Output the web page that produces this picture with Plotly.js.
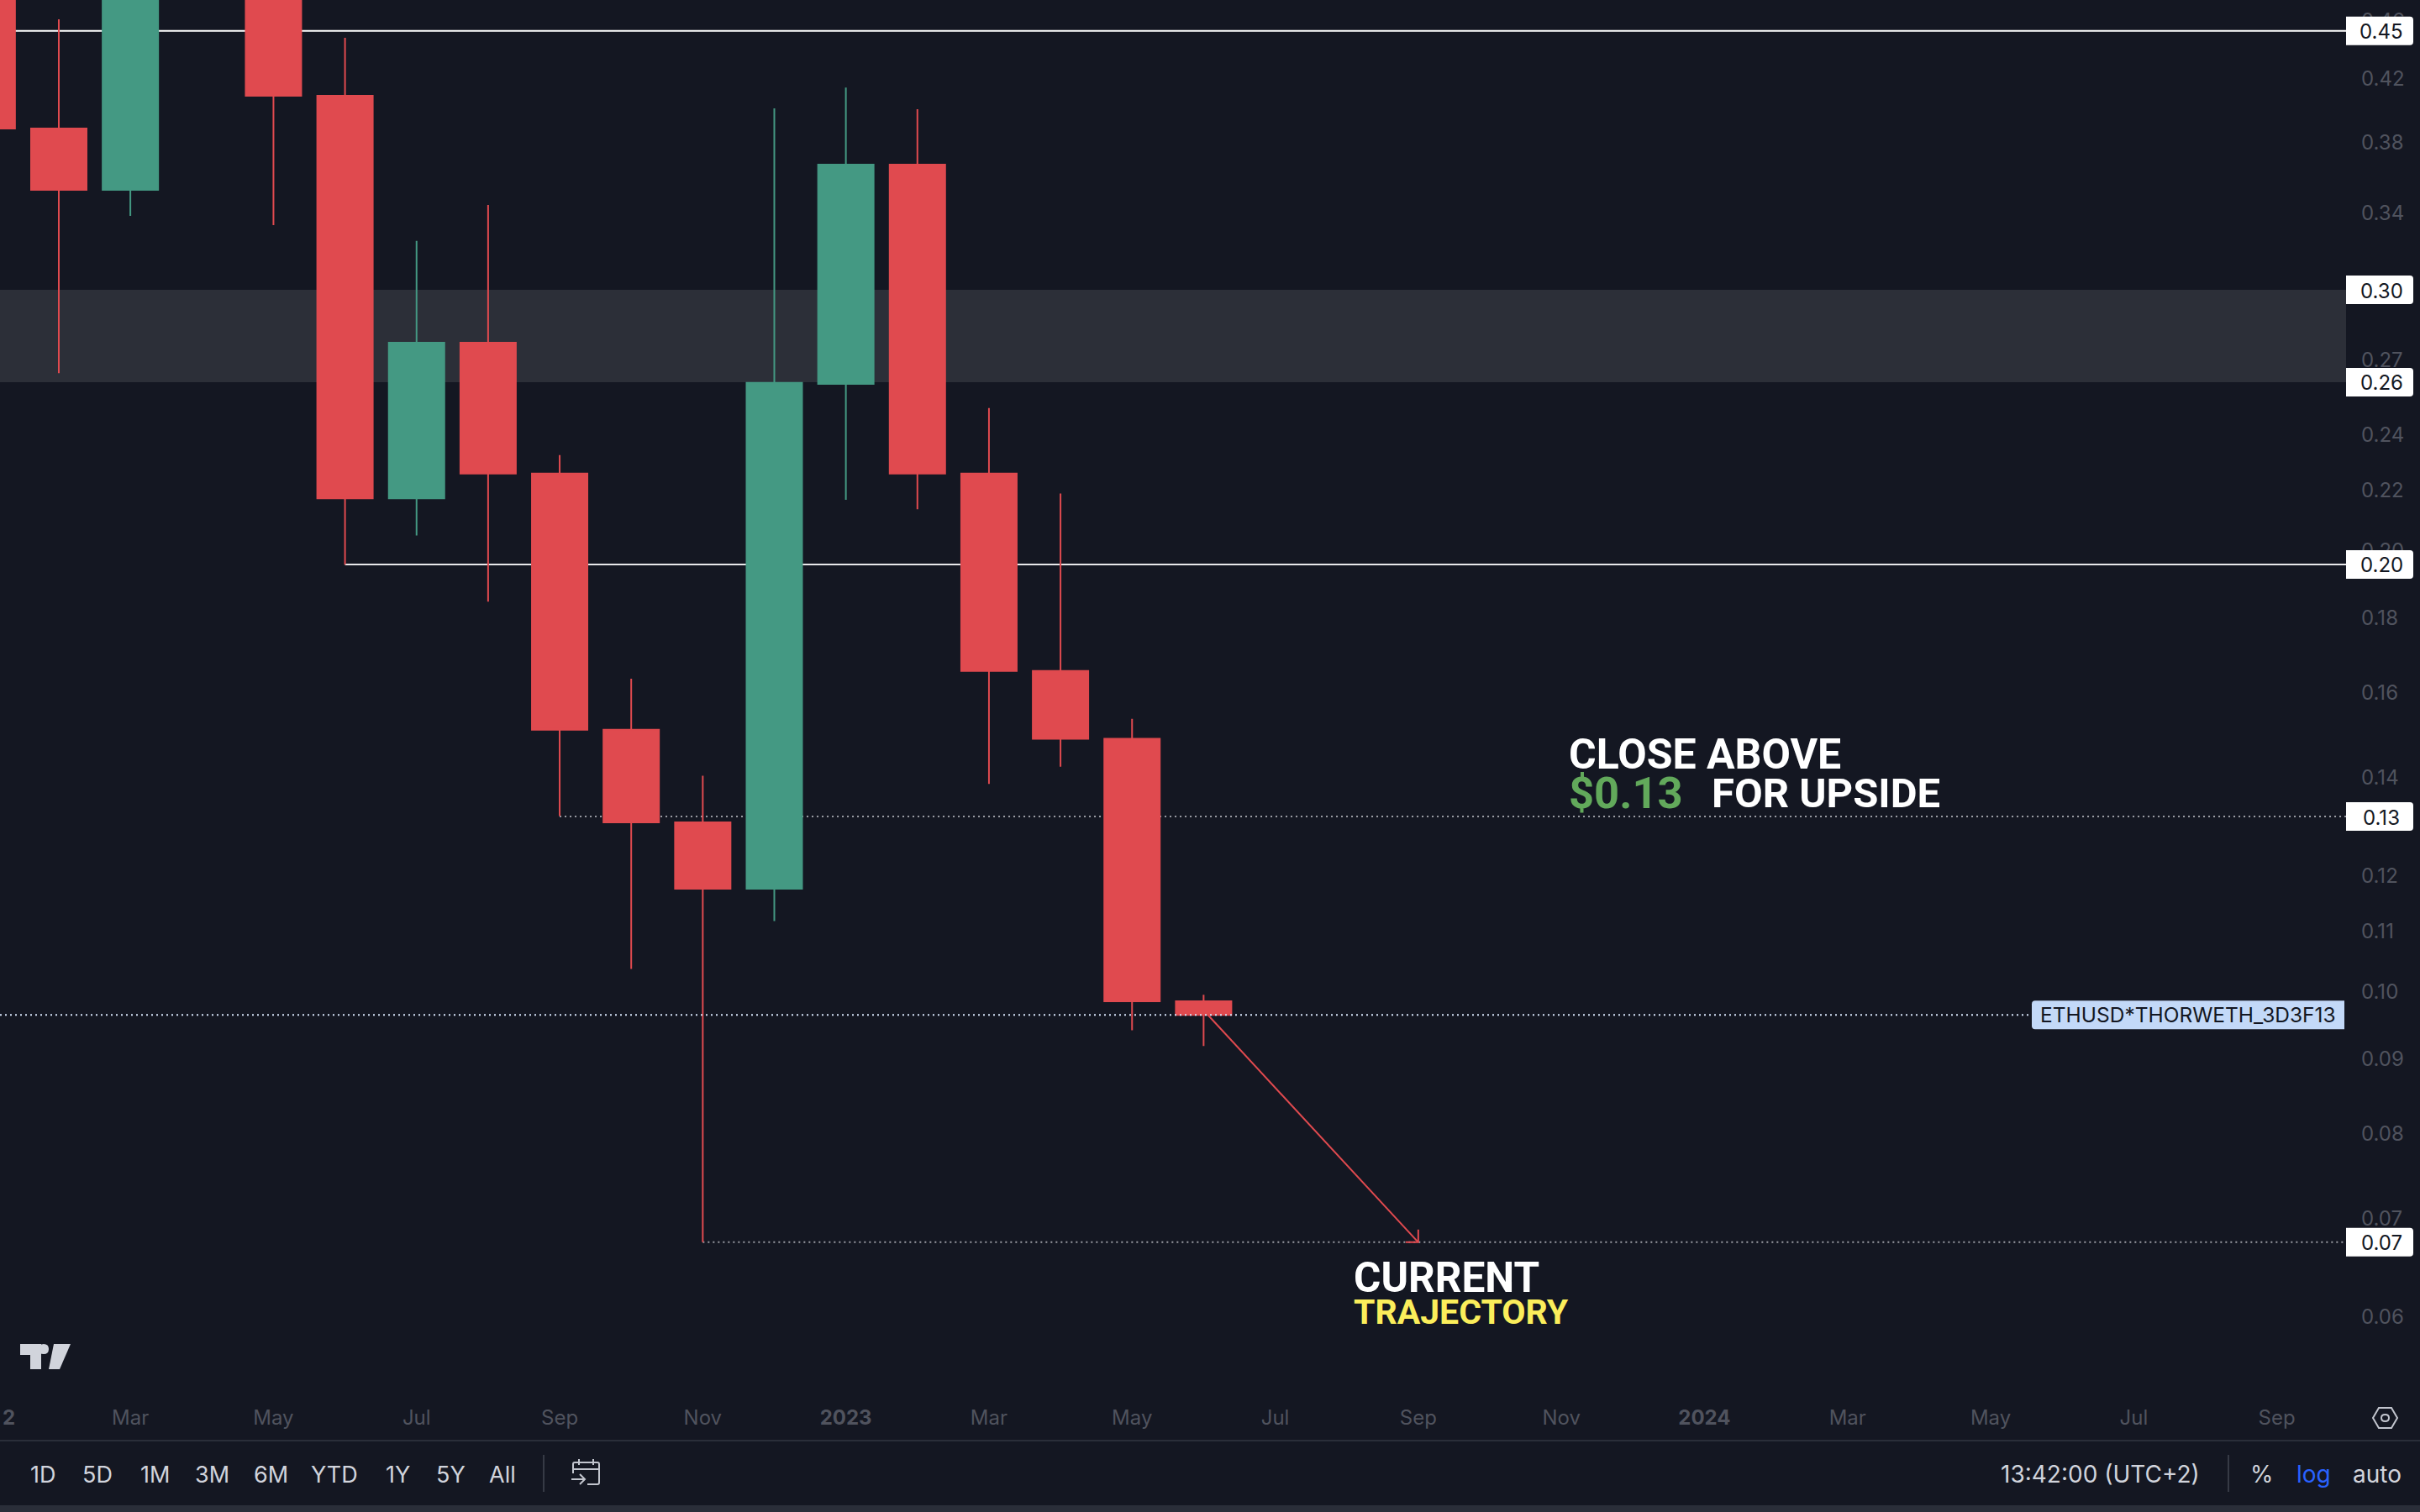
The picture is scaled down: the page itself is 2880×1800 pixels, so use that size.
<!DOCTYPE html>
<html><head><meta charset="utf-8">
<script src="https://cdn.plot.ly/plotly-3.0.1.min.js"></script>
<style>html,body{margin:0;padding:0;background:#141722;overflow:hidden}#c{width:2880px;height:1800px}</style>
</head><body><div id="c"></div>
<script>
var months = ["2022-01","2022-02","2022-03","2022-04","2022-05","2022-06","2022-07","2022-08","2022-09","2022-10","2022-11","2022-12",
  "2023-01","2023-02","2023-03","2023-04","2023-05","2023-06","2023-07","2023-08","2023-09","2023-10","2023-11","2023-12",
  "2024-01","2024-02","2024-03","2024-04","2024-05","2024-06","2024-07","2024-08","2024-09","2024-10","2024-11"];
var candleMonths = ["2022-01","2022-02","2022-03","2022-04","2022-05","2022-06","2022-07","2022-08","2022-09","2022-10","2022-11","2022-12",
  "2023-01","2023-02","2023-03","2023-04","2023-05","2023-06"];
var open  = [0.52,0.3875,0.3519,0.50,0.56,0.4080,0.2167,0.2767,0.2253,0.1506,0.1302,0.1173,0.2594,0.3661,0.2253,0.1652,0.1485,0.0983];
var high  = [0.56,0.4601,0.5000,0.60,0.58,0.4468,0.3247,0.3436,0.2319,0.1632,0.1401,0.3999,0.4133,0.3994,0.2497,0.2183,0.1532,0.0993];
var low   = [0.33,0.2638,0.3378,0.49,0.3329,0.1952,0.2044,0.1842,0.1315,0.1034,0.0673,0.1115,0.2162,0.2130,0.1383,0.1421,0.0939,0.0916];
var close = [0.3875,0.3519,0.50,0.56,0.4080,0.2167,0.2767,0.2253,0.1506,0.1302,0.1173,0.2598,0.3661,0.2253,0.1652,0.1485,0.0983,0.0962];

var yTickVals = [0.46,0.42,0.38,0.34,0.30,0.27,0.24,0.22,0.20,0.18,0.16,0.14,0.12,0.11,0.10,0.09,0.08,0.07,0.06];
var yTickText = ["0.46","0.42","0.38","0.34","0.30","0.27","0.24","0.22","0.20","0.18","0.16","0.14","0.12","0.11","0.10","0.09","0.08","0.07","0.06"];
var xTickVals = ["2022-03","2022-05","2022-07","2022-09","2022-11","2023-01","2023-03","2023-05","2023-07","2023-09","2023-11","2024-01","2024-03","2024-05","2024-07","2024-09"];
var xTickText = ["Mar","May","Jul","Sep","Nov","<b>2023</b>","Mar","May","Jul","Sep","Nov","<b>2024</b>","Mar","May","Jul","Sep"];

var tagPrices = [0.4517,0.3007,0.2601,0.1953,0.1314,0.0673];
var tagText   = ["0.45","0.30","0.26","0.20","0.13","0.07"];
var lastPrice = 0.0962;
var symbolName = "ETHUSD*THORWETH_3D3F13";

var W=2880,H=1800,plotR=2792,plotB=1660;
var BG='#141722',RED='#e04a4f',GREEN='#449983',AXIS='#50535e',TXT='#d1d4dc',SEP='#2a2e39';
function px(x){return x/W;} function py(y){return 1-y/H;}
var FONT='Inter, "Noto Sans", sans-serif';

var shapes=[], ann=[];
// zone and levels
shapes.push({type:'rect',layer:'below',xref:'paper',yref:'y',x0:0,x1:px(plotR),y0:tagPrices[2],y1:tagPrices[1],fillcolor:'#2c2f38',line:{width:0}});
shapes.push({type:'line',layer:'below',xref:'paper',yref:'y',x0:0,x1:px(plotR),y0:tagPrices[0],y1:tagPrices[0],line:{color:'#ffffff',width:2}});
shapes.push({type:'line',layer:'below',xref:'x',yref:'y',x0:'2022-06',x1:'2024-11',y0:tagPrices[3],y1:tagPrices[3],line:{color:'#e8e8ea',width:2}});
shapes.push({type:'line',layer:'below',xref:'x',yref:'y',x0:'2022-09',x1:'2024-11',y0:tagPrices[4],y1:tagPrices[4],line:{color:'#9b9da4',width:2,dash:'2px,4px'}});
shapes.push({type:'line',layer:'below',xref:'x',yref:'y',x0:'2022-11',x1:'2024-11',y0:tagPrices[5],y1:tagPrices[5],line:{color:'#9b9da4',width:2,dash:'2px,4px'}});
// trajectory arrow
shapes.push({type:'line',layer:'below',xref:'x',yref:'y',x0:'2023-06',x1:'2023-09',y0:0.0969,y1:tagPrices[5],line:{color:RED,width:2}});
shapes.push({type:'path',layer:'above',xref:'x',yref:'y',xsizemode:'pixel',ysizemode:'pixel',xanchor:'2023-09',yanchor:tagPrices[5],path:'M-15 0 L0 0 L0 15',line:{color:RED,width:2}});
// last price line
shapes.push({type:'line',layer:'above',xref:'paper',yref:'y',x0:0,x1:px(2418),y0:lastPrice,y1:lastPrice,line:{color:'#d5e3f7',width:2,dash:'2px,4px'}});
// last price tag
shapes.push({type:'path',layer:'above',xref:'paper',yref:'y',xsizemode:'pixel',ysizemode:'pixel',xanchor:px(2418),yanchor:lastPrice,
  path:'M4 17 H372 V-17 H4 Q0 -17 0 -13 V13 Q0 17 4 17 Z',fillcolor:'#c3d9f8',line:{width:0}});
ann.push({xref:'paper',yref:'y',x:px(2604),y:Math.log10(lastPrice),yshift:0,text:symbolName,showarrow:false,xanchor:'center',yanchor:'middle',font:{family:FONT,size:24.5,color:'#131722'}});
// price tags
tagPrices.forEach(function(p,i){
  shapes.push({type:'path',layer:'above',xref:'paper',yref:'y',xsizemode:'pixel',ysizemode:'pixel',xanchor:px(plotR),yanchor:p,
    path:'M0 17 H76 Q80 17 80 13 V-13 Q80 -17 76 -17 H0 Z',fillcolor:'#ffffff',line:{width:0}});
  ann.push({xref:'paper',yref:'y',x:px(2834),y:Math.log10(p),yshift:-1,text:tagText[i],showarrow:false,xanchor:'center',yanchor:'middle',font:{family:FONT,size:24,color:'#131722'}});
});
// callouts
function txt(t,x,y,size,color,anchor,family,weight){ann.push({xref:'paper',yref:'paper',x:px(x),y:py(y),text:t,showarrow:false,xanchor:anchor||'left',yanchor:'middle',borderpad:0,font:{family:family||FONT,size:size,color:color,weight:weight||400}});}
var ROB='Roboto, sans-serif';
txt('CLOSE ABOVE',1866,898,50,'#ffffff','left',ROB,700);
txt('$0.13',1866,944,52.5,'#62a95b','left',ROB,700);
txt('FOR UPSIDE',2036,944,49,'#ffffff','left',ROB,700);
txt('CURRENT',1610,1521,49.5,'#ffffff','left',ROB,700);
txt('TRAJECTORY',1610,1562,41,'#fbee5b','left',ROB,700);
txt('<b>2</b>',2,1687,24,AXIS,'left');
// toolbar
var toolbarLabels=['1D','5D','1M','3M','6M','YTD','1Y','5Y','All'];
var toolbarX=[51,116,184,253,322,398,473,536,598];
toolbarLabels.forEach(function(t,i){txt(t,toolbarX[i],1755,27,TXT,'center');});
txt('13:42:00 (UTC+2)',2499,1755,28,TXT,'center');
txt('%',2692,1755,28,TXT,'center');
txt('log',2753,1755,28,'#2962ff','center');
txt('auto',2829,1755,28,TXT,'center');
function prect(x0,y0,x1,y1,c){shapes.push({type:'rect',layer:'above',xref:'paper',yref:'paper',x0:px(x0),x1:px(x1),y0:py(y0),y1:py(y1),fillcolor:c,line:{width:0}});}
prect(0,1714,W,1716,SEP);
prect(0,1792,W,H,SEP);
prect(646,1732,648,1776,'#363a45');
prect(2651,1732,2653,1776,'#363a45');
// icons, in page pixels
function icon(path,fill,stroke){shapes.push({type:'path',layer:'above',xref:'paper',yref:'paper',xsizemode:'pixel',ysizemode:'pixel',xanchor:0,yanchor:1,path:path,fillcolor:fill||'rgba(0,0,0,0)',line:{color:stroke||'rgba(0,0,0,0)',width:stroke?2:0}});}
function P(a){return a.map(function(s){return typeof s==='string'?s:(s[0]+' '+(-s[1]));}).join(' ');}
// TradingView mark
icon(P(['M',[24,1600],'L',[49,1600],'L',[49,1630],'L',[36,1630],'L',[36,1613],'L',[24,1613],'Z']),'#d1d4dc');
icon(P(['M',[64,1600],'L',[84,1600],'L',[71,1630],'L',[58,1630],'Z']),'#d1d4dc');
icon(P(['M',[52,1600],'Q',[58,1600],[58,1606],'Q',[58,1612],[52,1612],'Q',[46,1612],[46,1606],'Q',[46,1600],[52,1600],'Z']),'#d1d4dc');
// calendar
icon(P(['M',[682,1754],'L',[682,1743],'Q',[682,1741],[684,1741],'L',[711,1741],'Q',[713,1741],[713,1743],'L',[713,1765],'Q',[713,1767],[711,1767],'L',[699,1767]]),null,'#c2c5ce');
icon(P(['M',[682,1749],'L',[713,1749],'M',[689,1737],'L',[689,1744],'M',[706,1737],'L',[706,1744]]),null,'#c2c5ce');
icon(P(['M',[680,1761],'L',[696,1761],'M',[690,1755],'L',[696,1761],'L',[690,1767]]),null,'#c2c5ce');
// settings hexagon
icon(P(['M',[2824,1688],'L',[2831,1676],'L',[2846,1676],'L',[2853,1688],'L',[2846,1700],'L',[2831,1700],'Z']),null,'#c2c5ce');
icon(P(['M',[2838.5,1684],'Q',[2843,1684],[2843,1688],'Q',[2843,1692],[2838.5,1692],'Q',[2834,1692],[2834,1688],'Q',[2834,1684],[2838.5,1684],'Z']),null,'#c2c5ce');

var trace={type:'candlestick',x:candleMonths,open:open,high:high,low:low,close:close,whiskerwidth:0,
  increasing:{line:{color:GREEN,width:2},fillcolor:GREEN},decreasing:{line:{color:RED,width:2},fillcolor:RED},hoverinfo:'skip',showlegend:false};
var layout={width:W,height:H,margin:{l:0,r:0,t:0,b:0,pad:0},paper_bgcolor:BG,plot_bgcolor:'rgba(0,0,0,0)',showlegend:false,boxgap:0.225,boxgroupgap:0,
  xaxis:{type:'category',categoryorder:'array',categoryarray:months,domain:[0,plotR/W],range:[0.178,0.178+plotR/85.15],rangeslider:{visible:false},
    tickmode:'array',tickvals:xTickVals,ticktext:xTickText,tickangle:0,showgrid:false,zeroline:false,showline:false,ticks:'',ticklabelstandoff:11,
    tickfont:{family:FONT,size:24,color:AXIS},fixedrange:true},
  yaxis:{type:'log',side:'right',domain:[1-plotB/H,1],range:[-(plotB+565.1)/1744,-565.1/1744],tickmode:'array',tickvals:yTickVals,ticktext:yTickText,
    showgrid:false,zeroline:false,showline:false,ticks:'',ticklabelstandoff:17,ticklabelshift:2,tickfont:{family:FONT,size:24,color:AXIS},fixedrange:true},
  shapes:shapes,annotations:ann};
Plotly.newPlot('c',[trace],layout,{displayModeBar:false,staticPlot:true});
</script></body></html>
